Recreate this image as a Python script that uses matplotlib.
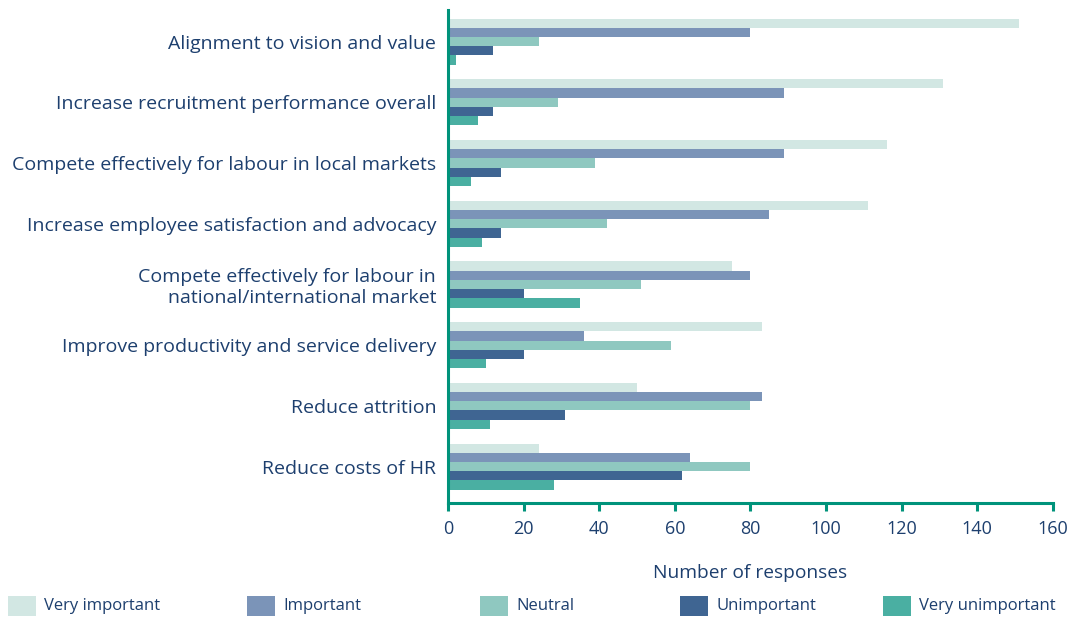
"""
Importance of employer branding objectives - grouped horizontal bars
"""

import numpy as np
import matplotlib.pyplot as plt
from matplotlib.patches import Rectangle

plt.rcParams['font.family'] = ['Open Sans', 'DejaVu Sans']

# Data
categories = [
    'Alignment to vision and value',
    'Increase recruitment performance overall',
    'Compete effectively for labour in local markets',
    'Increase employee satisfaction and advocacy',
    'Compete effectively for labour in\nnational/international market',
    'Improve productivity and service delivery',
    'Reduce attrition',
    'Reduce costs of HR',
]
series_names = ['Very important', 'Important', 'Neutral', 'Unimportant', 'Very unimportant']
very_important = [151, 131, 116, 111, 75, 83, 50, 24]
important = [80, 89, 89, 85, 80, 36, 83, 64]
neutral = [24, 29, 39, 42, 51, 59, 80, 80]
unimportant = [12, 12, 14, 14, 20, 20, 31, 62]
very_unimportant = [2, 8, 6, 9, 35, 10, 11, 28]
x_ticks = [0, 20, 40, 60, 80, 100, 120, 140, 160]

# Colours
TEXT = '#1d3f6e'
SPINE = '#00937b'
colors = ['#d2e7e3', '#7b94b8', '#8fc8c0', '#3f6592', '#4aafa2']

fig = plt.figure(figsize=(10.75, 6.19), dpi=100)
ax = fig.add_axes([0.4167, 0.1874, 0.5628, 0.7964])

series = [very_important, important, neutral, unimportant, very_unimportant]
y = np.arange(len(categories))
h = 0.152
for i, (vals, name, c) in enumerate(zip(series, series_names, colors)):
    ax.barh(y + (i - 2) * h, vals, height=h, color=c, label=name, linewidth=0)

ax.set_ylim(7.6, -0.52)
ax.set_xlim(0, 160)
ax.set_xticks(x_ticks)
ax.set_yticks(y)
ax.set_yticklabels(categories, fontsize=14, color=TEXT, ha='right')
ax.tick_params(axis='y', length=0, pad=8.5)
ax.tick_params(axis='x', length=6, width=2.2, color=SPINE, labelsize=13,
               labelcolor=TEXT, pad=6)

for side in ['top', 'right']:
    ax.spines[side].set_visible(False)
for side in ['left', 'bottom']:
    ax.spines[side].set_color(SPINE)
    ax.spines[side].set_linewidth(2.2)

ax.set_xlabel('Number of responses', fontsize=13.8, color=TEXT, labelpad=19)

# Legend drawn by hand along the bottom
W, H = 1075, 619
legend_x = [8, 247, 480, 680, 883]
for lx, name, c in zip(legend_x, series_names, colors):
    fig.add_artist(Rectangle((lx / W, 1 - 616 / H), 28 / W, 20 / H,
                             transform=fig.transFigure, facecolor=c, edgecolor='none'))
    fig.text((lx + 36) / W, 1 - 606 / H, name, fontsize=12, color=TEXT,
             ha='left', va='center')

fig.savefig('out.png', dpi=100, facecolor='white')
